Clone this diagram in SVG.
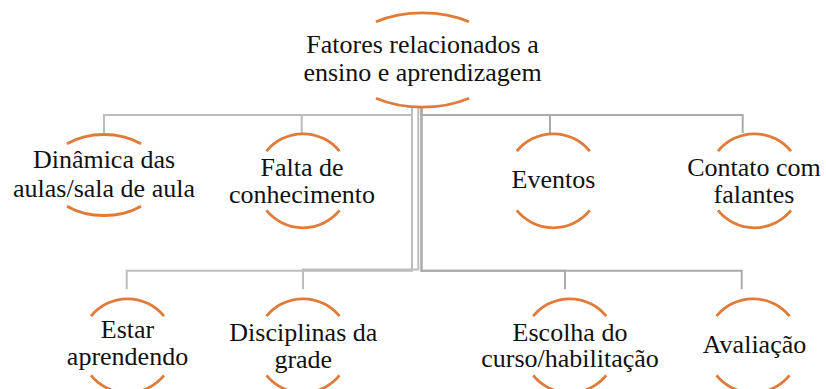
<svg xmlns="http://www.w3.org/2000/svg" width="826" height="389" viewBox="0 0 826 389">
<style>
.arc{fill:none;stroke:#E07B39;stroke-width:2.8;stroke-linecap:butt}
.lbl{font-family:"Liberation Serif","Times New Roman",serif;font-size:26px;fill:#111;text-anchor:middle}
.c{fill:none;stroke:#BDBDBD;stroke-width:2}
.c2{fill:none;stroke:#ABABAB;stroke-width:2}
</style>
<rect width="826" height="389" fill="#fff"/>
<g id="connectors">
<path class="c" d="M412,107 V115 H104 V133"/>
<path class="c" d="M412,107 V115 H301.7 V133"/>
<path class="c2" d="M421.5,107 V115 H550 V133"/>
<path class="c2" d="M421.5,107 V115 H742.7 V133"/>
<path class="c" d="M412,107 V270.7 H126.7 V289.3"/>
<path class="c" d="M418.3,107 V269.5 H303 V289.3"/>
<path class="c2" d="M421.5,107 V270.7 H565 V289.3"/>
<path class="c2" d="M421.5,107 V270.7 H741.7 V289.3"/>
</g>
<g id="n0">
<path class="arc" d="M376,21.7 A79.5,47.2 0 0 1 469,21.7"/>
<path class="arc" d="M376,98.3 A79.5,47.2 0 0 0 469,98.3"/>
<text class="lbl" x="422.5" y="52.8">Fatores relacionados a</text>
<text class="lbl" x="422.5" y="81">ensino e aprendizagem</text>
</g>
<g id="n1">
<path class="arc" d="M67,143.8 A58,40.5 0 0 1 141,143.8"/>
<path class="arc" d="M67,206.2 A58,40.5 0 0 0 141,206.2"/>
<text class="lbl" x="104" y="168.3">Dinâmica das</text>
<text class="lbl" x="104" y="196.7">aulas/sala de aula</text>
</g>
<g id="n2">
<path class="arc" d="M266.5,151.2 A47,47 0 0 1 339.5,151.2"/>
<path class="arc" d="M266.5,210.4 A47,47 0 0 0 339.5,210.4"/>
<text class="lbl" x="302" y="176">Falta de</text>
<text class="lbl" x="302" y="202.7">conhecimento</text>
</g>
<g id="n3">
<path class="arc" d="M516.8,151.2 A47,47 0 0 1 589.8,151.2"/>
<path class="arc" d="M516.8,210.4 A47,47 0 0 0 589.8,210.4"/>
<text class="lbl" x="553.5" y="188.3">Eventos</text>
</g>
<g id="n4">
<path class="arc" d="M718,151.2 A47,47 0 0 1 791,151.2"/>
<path class="arc" d="M718,210.4 A47,47 0 0 0 791,210.4"/>
<text class="lbl" x="754" y="176">Contato com</text>
<text class="lbl" x="754" y="203.3">falantes</text>
</g>
<g id="n5">
<path class="arc" d="M91,316.2 A47,47 0 0 1 164,316.2"/>
<path class="arc" d="M91,375.4 A47,47 0 0 0 164,375.4"/>
<text class="lbl" x="127.5" y="338.3">Estar</text>
<text class="lbl" x="127.5" y="365">aprendendo</text>
</g>
<g id="n6">
<path class="arc" d="M266.5,316.2 A47,47 0 0 1 339.5,316.2"/>
<path class="arc" d="M266.5,375.4 A47,47 0 0 0 339.5,375.4"/>
<text class="lbl" x="303.3" y="340.7">Disciplinas da</text>
<text class="lbl" x="303.3" y="368">grade</text>
</g>
<g id="n7">
<path class="arc" d="M533.2,316.2 A47,47 0 0 1 606.2,316.2"/>
<path class="arc" d="M533.2,375.4 A47,47 0 0 0 606.2,375.4"/>
<text class="lbl" x="570" y="340.7">Escolha do</text>
<text class="lbl" x="570" y="367.3">curso/habilitação</text>
</g>
<g id="n8">
<path class="arc" d="M716.5,316.2 A47,47 0 0 1 789.5,316.2"/>
<path class="arc" d="M716.5,375.4 A47,47 0 0 0 789.5,375.4"/>
<text class="lbl" x="754.5" y="353.3">Avaliação</text>
</g>
</svg>
